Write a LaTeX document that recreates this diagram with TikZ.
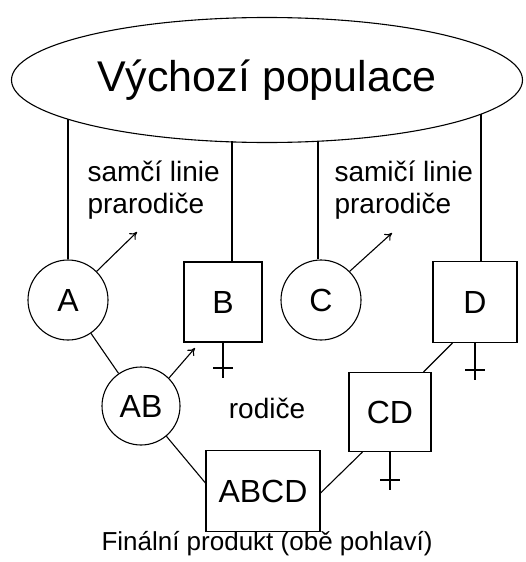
\documentclass[tikz,border=0pt]{standalone}
\usepackage{fontspec}
\setmainfont{Liberation Sans}
\usetikzlibrary{shapes.geometric,arrows.meta}
\begin{document}
\begin{tikzpicture}[x=1pt,y=-1pt,
  every path/.style={line width=1.1pt},
  circ/.style={draw,circle,minimum size=80pt,inner sep=0pt,font=\fontsize{32}{36}\selectfont},
  sq/.style={draw,rectangle,inner sep=0pt,font=\fontsize{32}{36}\selectfont},
  lbl/.style={align=left,inner sep=0pt,font=\fontsize{28}{32}\selectfont},
  arr/.style={-{To[length=7pt,width=9pt]}}]
\useasboundingbox (0,0) rectangle (526,562);
\node[draw,ellipse,minimum width=511pt,minimum height=125pt,inner sep=0pt,
  font=\fontsize{43}{48}\selectfont] (ell) at (267,80) {Výchozí populace};
\node[circ] (A) at (68,300) {A};
\node[sq,minimum width=78pt,minimum height=80pt] (B) at (223,302) {B};
\node[circ] (C) at (321,300) {C};
\node[sq,minimum width=84pt,minimum height=81pt] (D) at (475,302) {D};
\node[circ,minimum size=78pt] (AB) at (141,406) {AB};
\node[sq,minimum width=82pt,minimum height=79pt] (CD) at (390,412) {CD};
\node[sq,minimum width=114pt,minimum height=81pt] (ABCD) at (263,491) {ABCD};
\node[lbl,anchor=west] (t1) at (87,190) {samčí linie\\prarodiče};
\node[lbl,anchor=west] (t2) at (334,190) {samičí linie\\prarodiče};
\node[lbl] (rod) at (267,408) {rodiče};
\node[inner sep=0pt,font=\fontsize{26}{30}\selectfont] (fin) at (267,544) {Finální produkt (obě pohlaví)};
% ellipse connection points
\coordinate (eA) at (68,119);
\coordinate (eB) at (232,141);
\coordinate (eC) at (318,141);
\coordinate (eD) at (481,114);
\draw (eA) -- (A.north);
\draw (eB) -- ([xshift=9pt]B.north);
\draw (eC) -- ([xshift=-3pt]C.north);
\draw (eD) -- ([xshift=6pt]D.north);
% arrows
\coordinate (aA) at (137,232);
\coordinate (aC) at (392,233);
\coordinate (aAB) at (195,348);
\draw[arr] (A.45) -- (aA);
\draw[arr] (C.45) -- (aC);
\draw[arr] (AB.45) -- (aAB);
% crossings
\draw (A) -- (AB);
\draw (AB.-50) -- ([yshift=8pt]ABCD.west);
\draw ([xshift=20pt]D.south west) -- ([xshift=-8pt]CD.north east);
\draw ([xshift=14pt]CD.south west) -- ([yshift=-2pt]ABCD.east);
% male symbols
\coordinate (bB) at (223,378);
\coordinate (hB1) at (213,368);
\coordinate (hB2) at (233,368);
\draw (B.south) -- (bB);
\draw (hB1) -- (hB2);
\coordinate (dtop) at (475,343);
\coordinate (bD) at (475,380);
\coordinate (hD1) at (465,370);
\coordinate (hD2) at (485,370);
\draw (D.south) -- (bD);
\draw (hD1) -- (hD2);
\coordinate (bCD) at (390,490);
\coordinate (hC1) at (380,480);
\coordinate (hC2) at (400,480);
\draw (CD.south) -- (bCD);
\draw (hC1) -- (hC2);
\end{tikzpicture}
\end{document}
